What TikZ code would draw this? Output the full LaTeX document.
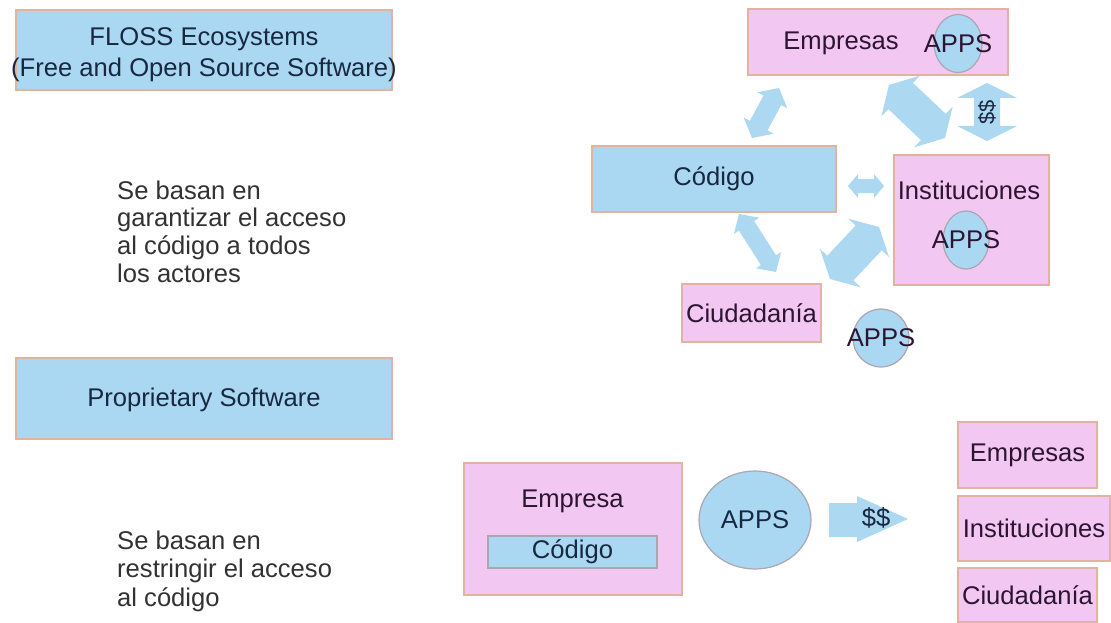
\documentclass[tikz,border=0pt]{standalone}
\usepackage{fontspec}
\setmainfont{Liberation Sans}
\usetikzlibrary{calc,shapes.geometric}
\definecolor{cblue}{RGB}{170,216,242}
\definecolor{cpink}{RGB}{242,200,242}
\definecolor{cborder}{RGB}{224,180,160}
\definecolor{cellb}{RGB}{172,166,176}
\definecolor{carrow}{RGB}{172,216,242}
\definecolor{ctextb}{RGB}{25,40,65}
\definecolor{ctextp}{RGB}{45,20,50}
\definecolor{ctextg}{RGB}{50,50,50}
\newcommand\dblarr[5]{%
  \coordinate (#1-h) at ($(#1)!#3!(#2)$);
  \coordinate (#2-h) at ($(#2)!#3!(#1)$);
  \fill[carrow] (#1) -- ($(#1-h)!#5!90:(#2)$) -- ($(#1-h)!#4!90:(#2)$)
    -- ($(#2-h)!#4!-90:(#1)$) -- ($(#2-h)!#5!-90:(#1)$) -- (#2)
    -- ($(#2-h)!#5!90:(#1)$) -- ($(#2-h)!#4!90:(#1)$)
    -- ($(#1-h)!#4!-90:(#2)$) -- ($(#1-h)!#5!-90:(#2)$) -- cycle;
}
\tikzset{
  basefont/.style={font=\fontsize{25.6}{29.4}\selectfont},
  bluebox/.style={rectangle, fill=cblue, draw=cborder, line width=1.2pt, inner sep=0pt, text=ctextb, basefont},
  pinkbox/.style={rectangle, fill=cpink, draw=cborder, line width=1.2pt, inner sep=0pt, text=ctextp, basefont},
  appsell/.style={ellipse, fill=cblue, draw=cellb, line width=1.2pt, inner sep=0pt},
  ptext/.style={text=ctextp, inner sep=0pt, basefont},
  gtext/.style={text=ctextg, inner sep=0pt, align=left, anchor=west},
}
\begin{document}
\begin{tikzpicture}[x=1pt,y=-1pt]
\useasboundingbox[fill=white] (0,0) rectangle (1111,623);

% left column
\node[bluebox, minimum width=376pt, minimum height=80pt] (floss) at (204,50) {};
\node[text=ctextb, inner sep=0pt, align=center,
      font=\fontsize{25.6}{31}\selectfont] (flosst) at (204,55)
  {FLOSS Ecosystems\\(Free and Open Source Software)};
\node[gtext, font=\fontsize{25.6}{27.7}\selectfont] (txtA) at (117,231.5)
  {Se basan en\\garantizar el acceso\\al código a todos\\los actores};
\node[bluebox, minimum width=376pt, minimum height=81pt, text depth=2pt] (prop) at (204,398.5)
  {Proprietary Software};
\node[gtext, font=\fontsize{25.6}{28.5}\selectfont] (txtB) at (117,571)
  {Se basan en\\restringir el acceso\\al código};

% FLOSS ecosystem (top right)
\node[pinkbox, minimum width=260pt, minimum height=66pt] (empT) at (878,42) {};
\node[ptext] (empTt) at (841,43) {Empresas};
\node[appsell, minimum width=48pt, minimum height=58pt] (appsE) at (958,43.5) {};
\node[ptext] (appsEt) at (appsE) {APPS};

\node[bluebox, minimum width=244pt, minimum height=66pt] (cod) at (714,179) {Código};

\node[pinkbox, minimum width=155pt, minimum height=130pt] (inst) at (971.5,220) {};
\node[ptext] (instt) at (969,190) {Instituciones};
\node[appsell, minimum width=46pt, minimum height=58pt] (appsI) at (966,240) {};
\node[ptext] (appsIt) at (appsI) {APPS};

\node[pinkbox, minimum width=139pt, minimum height=58pt] (ciu) at (751.5,313) {Ciudadanía};
\node[appsell, minimum width=56pt, minimum height=58pt] (appsC) at (881,338) {};
\node[ptext] (appsCt) at (appsC) {APPS};

% double arrows
\coordinate (a1) at (779,88);  \coordinate (b1) at (752,138);
\dblarr{a1}{b1}{14pt}{10pt}{17pt}
\coordinate (a2) at (848,186); \coordinate (b2) at (884,186);
\dblarr{a2}{b2}{10pt}{7pt}{12pt}
\coordinate (a3) at (889,85);  \coordinate (b3) at (945,138);
\dblarr{a3}{b3}{16pt}{18pt}{28pt}
\coordinate (a4) at (987,83);  \coordinate (b4) at (987,141);
\dblarr{a4}{b4}{15pt}{13pt}{30pt}
\node[text=ctextb, inner sep=0pt, rotate=90, font=\fontsize{22}{24}\selectfont] (dol1) at (987,112) {\$\$};
\coordinate (a5) at (739,214); \coordinate (b5) at (776,272);
\dblarr{a5}{b5}{14pt}{9pt}{15pt}
\coordinate (a6) at (830,279); \coordinate (b6) at (879,227);
\dblarr{a6}{b6}{15pt}{18pt}{28pt}

% proprietary (bottom right)
\node[pinkbox, minimum width=218pt, minimum height=132pt] (emp) at (573,529) {};
\node[ptext] (empt) at (572.5,501) {Empresa};
\node[bluebox, draw=cellb, minimum width=169pt, minimum height=32pt] (codB) at (572.5,552) {Código};
\node[appsell, minimum width=112pt, minimum height=98pt, text=ctextb, basefont] (appsB) at (755,520) {APPS};
\fill[carrow] (829,503) -- (857,503) -- (857,496) -- (908,519) -- (857,542) -- (857,537) -- (829,537) -- cycle;
\node[text=ctextb, inner sep=0pt, basefont] (dol2) at (876,518) {\$\$};

\node[pinkbox, minimum width=139pt, minimum height=66pt] (empR) at (1027.5,455) {Empresas};
\node[pinkbox, minimum width=152pt, minimum height=65pt] (instR) at (1034,528.5) {Instituciones};
\node[pinkbox, minimum width=139pt, minimum height=54pt] (ciuR) at (1027.5,595) {Ciudadanía};
\end{tikzpicture}
\end{document}
